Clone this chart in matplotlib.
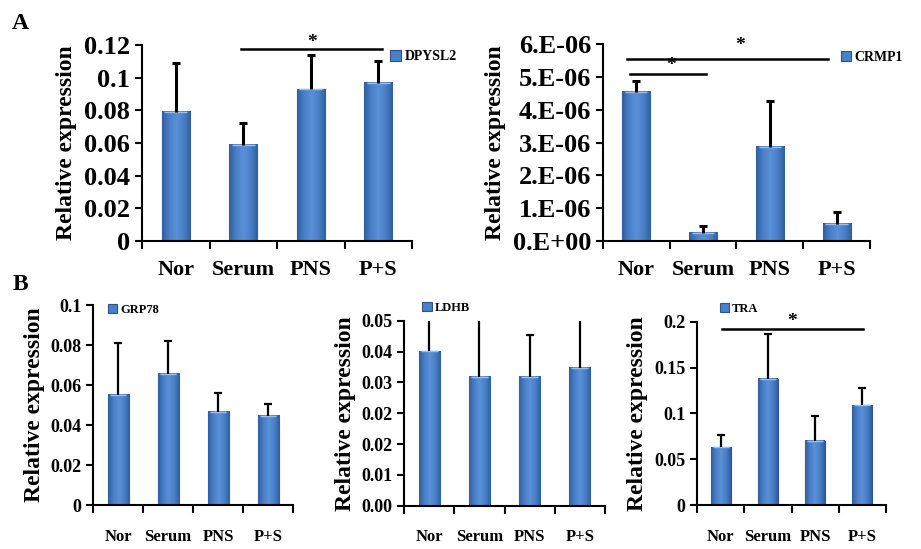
import matplotlib
matplotlib.use("Agg")
import numpy as np
import matplotlib.pyplot as plt
from matplotlib.colors import LinearSegmentedColormap
from matplotlib.ticker import FixedLocator, NullFormatter

plt.rcParams["font.family"] = ["Liberation Serif", "DejaVu Serif"]
plt.rcParams["font.weight"] = "bold"

groups = ["Nor", "Serum", "PNS", "P+S"]

# panel A
dpysl2 = [0.079, 0.059, 0.093, 0.097]
dpysl2_top = [0.109, 0.072, 0.114, 0.110]
crmp1 = [4.55e-6, 0.25e-6, 2.87e-6, 0.53e-6]
crmp1_top = [4.87e-6, 0.45e-6, 4.25e-6, 0.87e-6]
crmp1_ticks = [0, 1e-6, 2e-6, 3e-6, 4e-6, 5e-6, 6e-6]
crmp1_labels = ["0.E+00", "1.E-06", "2.E-06", "3.E-06", "4.E-06", "5.E-06", "6.E-06"]

# panel B
grp78 = [0.055, 0.0655, 0.0465, 0.0445]
grp78_top = [0.081, 0.082, 0.056, 0.0505]
ldhb = [0.0418, 0.0349, 0.0349, 0.0373]
ldhb_top = [0.058, 0.058, 0.046, 0.058]   # some bars run past the axis top
ldhb_ticks = [0, 0.05 / 6, 0.1 / 6, 0.025, 0.2 / 6, 0.25 / 6, 0.05]
ldhb_labels = ["0.00", "0.01", "0.02", "0.02", "0.03", "0.04", "0.05"]
tra = [0.063, 0.138, 0.070, 0.109]
tra_top = [0.076, 0.186, 0.097, 0.128]

edge_color = "#2a5590"
bar_cmap = LinearSegmentedColormap.from_list(
    "bar", ["#2f5f9f", "#4a80c8", "#5a90d6", "#4a80c8", "#2f5f9f"])
grad = np.linspace(0, 1, 64).reshape(1, -1)

fig = plt.figure(figsize=(9.21, 5.49), dpi=100)


def panel(rect, vals, tops, name, ylim, leg_xy, big=True, yticks=None, ylabels=None):
    ax = fig.add_axes(rect)
    x = list(range(len(groups)))
    lw = 2.2 if big else 1.6
    bars = ax.bar(x, vals, width=0.42, color="#4a80c8", edgecolor=edge_color,
                  linewidth=0.8, label=name, zorder=2)
    for b in bars:
        bx, by, bw, bh = b.get_x(), b.get_y(), b.get_width(), b.get_height()
        ax.imshow(grad, extent=[bx, bx + bw, by, by + bh], aspect="auto",
                  cmap=bar_cmap, zorder=2.1, interpolation="bilinear")
        ax.plot([bx + bw * 0.1, bx + bw * 0.9], [by + bh, by + bh],
                color="#9cc0ee", lw=1.0, zorder=2.2, solid_capstyle="butt")
    # upper error bars only
    ax.vlines(x, vals, tops, colors="black", lw=lw, zorder=3)
    ax.plot(x, tops, ls="none", marker="_", ms=6, mew=lw, color="black", zorder=3)
    ax.set_xlim(-0.5, 3.5)
    ax.set_ylim(*ylim)
    for s in ["top", "right"]:
        ax.spines[s].set_visible(False)
    for s in ["left", "bottom"]:
        ax.spines[s].set_linewidth(1.5)
    ax.xaxis.set_major_locator(FixedLocator([-0.5, 0.5, 1.5, 2.5, 3.5]))
    ax.xaxis.set_major_formatter(NullFormatter())
    ax.set_xticks(x, minor=True)
    ax.set_xticklabels(groups, minor=True)
    ax.tick_params(axis="x", which="major", length=6, width=1.5, direction="out")
    ax.tick_params(axis="x", which="minor", length=0,
                   pad=14 if big else 17, labelsize=16 if big else 12)
    ax.tick_params(axis="y", length=5, width=1.5, labelsize=19 if big else 13)
    if yticks is not None:
        ax.set_yticks(yticks)
        ax.set_yticklabels(ylabels)
    ax.set_ylabel("Relative expression", fontsize=17, fontweight="bold",
                  labelpad=5 if big else 4)
    ax.legend(handles=[bars], labels=[name], loc="center left",
              bbox_to_anchor=leg_xy, frameon=False, borderpad=0,
              borderaxespad=0, handlelength=0.75, handleheight=0.75,
              handletextpad=0.25, prop={"size": 10 if big else 9, "weight": "bold"})
    return ax


def sig(ax, x0, x1, y, ys, xs=None):
    ax.plot([x0, x1], [y, y], color="black", lw=1.8, clip_on=False)
    ax.text((x0 + x1) / 2 if xs is None else xs, ys, "*", ha="center",
            va="center", fontsize=14, fontweight="bold", clip_on=False)


a1 = panel([0.1542, 0.561, 0.2932, 0.357], dpysl2, dpysl2_top, "DPYSL2",
           (0, 0.12), (0.92, 0.94),
           yticks=[0, 0.02, 0.04, 0.06, 0.08, 0.1, 0.12],
           ylabels=["0", "0.02", "0.04", "0.06", "0.08", "0.1", "0.12"])
sig(a1, 0.97, 3.06, 0.1175, 0.1215)

a2 = panel([0.6544, 0.561, 0.2902, 0.3588], crmp1, crmp1_top, "CRMP1",
           (0, 6e-6), (0.89, 0.934), yticks=crmp1_ticks, ylabels=crmp1_labels)
sig(a2, -0.09, 1.05, 5.09e-6, 5.35e-6, xs=0.52)
sig(a2, -0.14, 2.87, 5.55e-6, 5.95e-6, xs=1.55)

b1 = panel([0.101, 0.0801, 0.2172, 0.3643], grp78, grp78_top, "GRP78",
           (0, 0.1), (0.075, 0.975), big=False,
           yticks=[0, 0.02, 0.04, 0.06, 0.08, 0.1],
           ylabels=["0", "0.02", "0.04", "0.06", "0.08", "0.1"])

b2 = panel([0.4387, 0.0789, 0.2182, 0.337], ldhb, ldhb_top, "LDHB",
           (0, 0.05), (0.09, 1.07), big=False,
           yticks=ldhb_ticks, ylabels=ldhb_labels)

b3 = panel([0.7568, 0.0801, 0.2052, 0.334], tra, tra_top, "TRA",
           (0, 0.2), (0.12, 1.07), big=False,
           yticks=[0, 0.05, 0.1, 0.15, 0.2],
           ylabels=["0", "0.05", "0.1", "0.15", "0.2"])
sig(b3, 0.03, 3.01, 0.192, 0.2)

fig.text(0.022, 0.958, "A", fontsize=17, fontweight="bold", ha="center", va="center")
fig.text(0.022, 0.482, "B", fontsize=17, fontweight="bold", ha="center", va="center")

fig.savefig("out.png", dpi=100)
